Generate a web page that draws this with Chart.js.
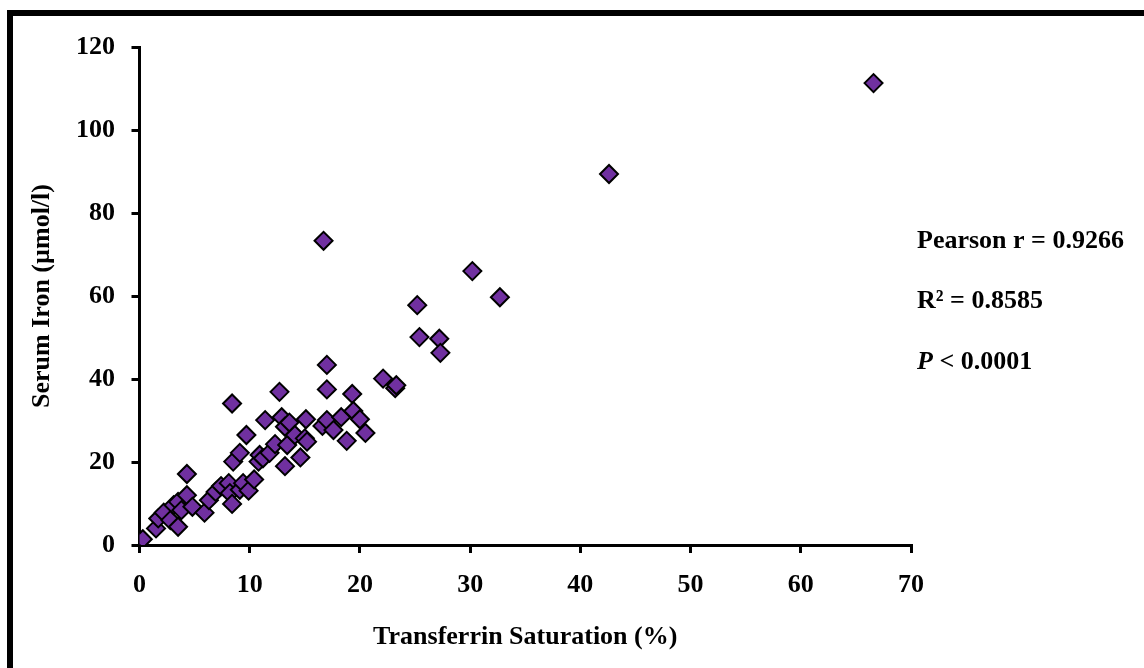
<!DOCTYPE html>
<html>
<head>
<meta charset="utf-8">
<script src="https://cdn.jsdelivr.net/npm/chart.js@4.4.1/dist/chart.umd.min.js"></script>
<style>
  html, body { margin: 0; padding: 0; background: #ffffff; }
  #wrap { width: 1144px; height: 668px; position: relative; }
</style>
</head>
<body>
<div id="wrap"><canvas id="c" width="1144" height="668"></canvas></div>
<script>
// ---- Data ----
const transferrinSaturation = [0.3,1.5,1.7,2.2,2.8,3.1,3.5,3.5,3.8,4.3,4.3,4.8,5.9,6.3,6.9,7.4,8.1,8.2,8.4,8.4,8.5,9.1,9.1,9.4,9.7,9.9,10.4,10.8,10.9,11.2,11.4,11.8,12.3,12.7,12.9,13.2,13.2,13.4,13.6,14.1,14.6,15.0,15.1,15.2,16.6,16.7,17.0,17.0,17.0,17.6,18.3,18.8,19.3,19.4,20.0,20.5,22.1,23.2,23.3,25.2,25.4,27.2,27.3,30.2,32.7,42.6,66.6];
const serumIron = [1.4,4.0,6.4,7.8,6.0,9.6,4.4,10.4,8.4,12.0,17.1,9.2,7.8,10.8,12.8,14.2,14.9,12.5,9.9,34.1,20.1,13.3,22.2,14.9,26.5,13.1,15.8,20.1,21.7,20.9,30.1,22.2,24.3,36.9,30.8,28.5,19.0,24.1,29.5,26.5,21.1,25.7,30.3,24.9,28.7,73.3,43.4,37.5,30.1,27.7,30.8,25.1,36.4,32.3,30.3,27.0,40.1,37.8,38.5,57.8,50.1,49.7,46.3,66.0,59.7,89.4,111.3];
const xTicks = [0,10,20,30,40,50,60,70];
const yTicks = [0,20,40,60,80,100,120];
const xAxisTitle = 'Transferrin Saturation (%)';
const yAxisTitle = 'Serum Iron (µmol/l)';
const statLines = ['Pearson r = 0.9266', 'R\u00B2 = 0.8585', 'P', ' < 0.0001'];

const FONT = 'Liberation Serif, Times New Roman, serif';
const points = transferrinSaturation.map((x, i) => ({ x: x, y: serumIron[i] }));

const decorPlugin = {
  id: 'decor',
  beforeDraw(chart) {
    const ctx = chart.ctx;
    ctx.save();
    ctx.fillStyle = '#ffffff';
    ctx.fillRect(0, 0, chart.width, chart.height);
    ctx.strokeStyle = '#000000';
    ctx.lineWidth = 6;
    ctx.strokeRect(10, 13, 1160, 700);
    ctx.restore();
  },
  afterDraw(chart) {
    const ctx = chart.ctx;
    ctx.save();
    ctx.fillStyle = '#000000';
    ctx.textBaseline = 'middle';
    ctx.textAlign = 'left';
    const x0 = 917;
    ctx.font = 'bold 26px ' + FONT;
    ctx.fillText(statLines[0], x0, 241);
    ctx.fillText(statLines[1], x0, 301);
    ctx.font = 'italic bold 26px ' + FONT;
    ctx.fillText(statLines[2], x0, 362);
    const w = ctx.measureText(statLines[2]).width;
    ctx.font = 'bold 26px ' + FONT;
    ctx.fillText(statLines[3], x0 + w, 362);
    ctx.restore();
  }
};

const tickFont = { family: FONT, size: 26, weight: 'bold' };

new Chart(document.getElementById('c'), {
  type: 'scatter',
  data: {
    datasets: [{
      data: points,
      pointStyle: 'rectRot',
      pointRadius: 9,
      pointHoverRadius: 9,
      backgroundColor: '#7030A0',
      borderColor: '#000000',
      borderWidth: 2
    }]
  },
  options: {
    responsive: false,
    animation: false,
    devicePixelRatio: 1,
    layout: { padding: { top: 47, right: 233, left: 0, bottom: 0 } },
    plugins: { legend: { display: false }, tooltip: { enabled: false } },
    scales: {
      x: {
        type: 'linear',
        min: 0, max: 70,
        afterBuildTicks: (s) => { s.ticks = xTicks.map(v => ({ value: v })); },
        afterFit: (s) => { s.height = 123; },
        ticks: { font: tickFont, color: '#000', padding: 16.5, maxRotation: 0 },
        grid: { drawOnChartArea: false, drawTicks: true, tickLength: 8, color: '#000', lineWidth: 3 },
        border: { display: true, color: '#000', width: 3 },
        title: { display: true, text: xAxisTitle, font: tickFont, color: '#000', padding: { top: 0, bottom: 15.4 } }
      },
      y: {
        type: 'linear',
        min: 0, max: 120,
        afterBuildTicks: (s) => { s.ticks = yTicks.map(v => ({ value: v })); },
        afterFit: (s) => { s.width = 139.5; },
        ticks: { font: tickFont, color: '#000', padding: 16.5 },
        grid: { drawOnChartArea: false, drawTicks: true, tickLength: 8, color: '#000', lineWidth: 3 },
        border: { display: true, color: '#000', width: 3 },
        title: { display: true, text: yAxisTitle, font: tickFont, color: '#000', padding: { top: 26.4, bottom: 0 } }
      }
    }
  },
  plugins: [decorPlugin]
});
</script>
</body>
</html>
